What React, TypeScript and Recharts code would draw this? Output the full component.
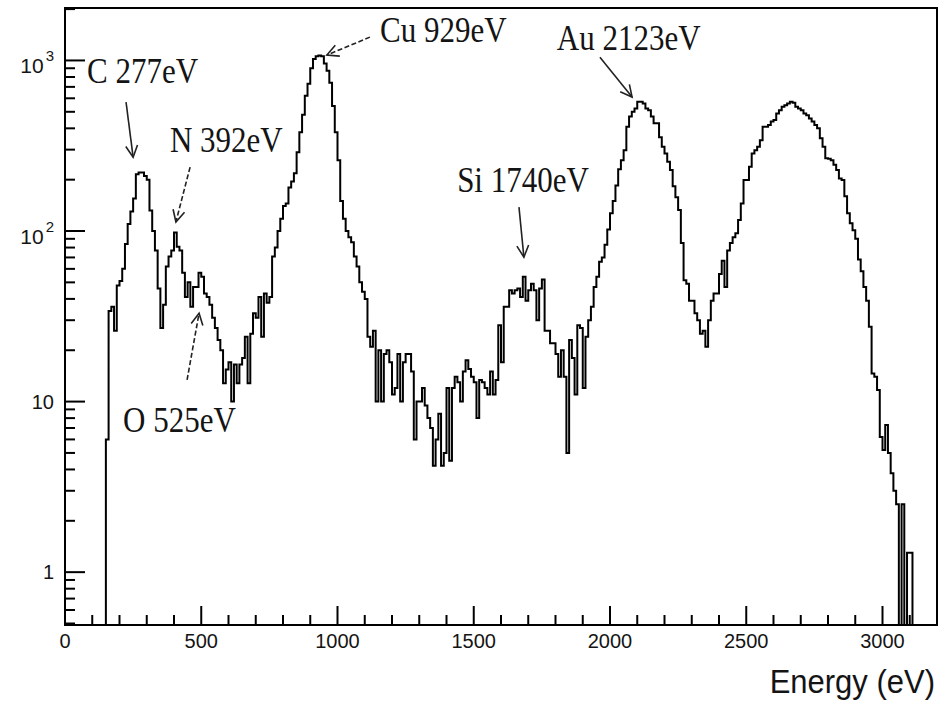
import React from "react";
import {
  LineChart,
  Line,
  XAxis,
  YAxis,
  ReferenceLine,
  ReferenceDot,
  ReferenceArea,
} from "recharts";

// Histogram: bin start energy (eV) = BIN_START + i * BIN_WIDTH
const BIN_START = 140;
const BIN_WIDTH = 10;
// counts per bin (values below 0.49 are empty bins, drawn below the frame)
const COUNTS: number[] = [
  0.3, 6, 34, 36, 26, 48, 51, 60, 84, 110, // 140-230
  130, 155, 215, 220, 220, 210, 200, 132, 100, 77, // 240-330
  46, 27, 37, 62, 71, 77, 98, 81, 77, 57, // 340-430
  41, 50, 36, 47, 47, 57, 54, 43, 41, 37, // 440-530
  31, 27, 23, 20, 12.8, 15.4, 17, 10, 16.5, 12.8, // 540-630
  16.5, 18, 24, 12.8, 25, 33, 31, 41, 24, 43, // 640-730
  38, 41, 71, 80, 100, 118, 140, 145, 180, 195, // 740-830
  218, 290, 380, 480, 620, 730, 900, 1020, 1060, 1070, // 840-930
  1060, 960, 870, 740, 540, 380, 260, 150, 118, 100, // 940-1030
  92, 86, 71, 62, 50, 44, 40, 24, 21, 26, // 1040-1130
  10, 20, 10, 19, 20, 17, 11, 12, 19, 10, // 1140-1230
  17, 19, 19, 15, 6, 10, 10, 12, 9.5, 8, // 1240-1330
  7, 4.2, 6, 8.5, 4.2, 5, 12, 4.5, 12, 14, // 1340-1430
  13, 10, 15, 17.5, 15.5, 14, 13, 8, 13.4, 13, // 1440-1530
  12, 11, 15, 11, 13.4, 28, 17, 36, 36, 45, // 1540-1630
  43, 45, 46, 41, 54, 39, 45, 49, 45, 30, // 1640-1730
  46, 52, 26, 26, 22, 22, 19, 14, 20, 14, // 1740-1830
  5, 23, 18, 11, 28, 27, 12, 24, 30, 36, // 1840-1930
  47, 54, 66, 70, 83, 102, 127, 150, 185, 230, // 1940-2030
  260, 298, 408, 470, 500, 523, 572, 572, 560, 523, // 2040-2130
  511, 470, 428, 428, 355, 312, 285, 255, 228, 183, // 2140-2230
  158, 133, 85, 51.5, 49, 39, 39, 33, 30, 25, // 2240-2330
  26, 21, 30, 39, 43, 43, 56, 67, 47, 77, // 2340-2430
  85, 92, 97, 116, 145, 199, 199, 238, 285, 298, // 2440-2530
  312, 341, 408, 408, 418, 438, 447, 489, 511, 535, // 2540-2630
  547, 560, 572, 565, 535, 523, 511, 489, 478, 457, // 2640-2730
  438, 418, 400, 350, 312, 267, 265, 260, 245, 228, // 2740-2830
  203, 199, 160, 127, 111, 101, 90, 68, 58, 47, // 2840-2930
  39, 27.5, 14.6, 14, 11.7, 6.2, 5.2, 7.3, 5.0, 3.8, // 2940-3030
  3.0, 2.5, 0.3, 2.5, 0.3, 1.3, 1.3, 0.3, // 3040-3110
];

// axis ticks
const X_TICKS: number[] = [
  0, 100, 200, 300, 400, 500, 600, 700, 800, 900, 1000, 1100, 1200, 1300, 1400,
  1500, 1600, 1700, 1800, 1900, 2000, 2100, 2200, 2300, 2400, 2500, 2600, 2700,
  2800, 2900, 3000, 3100,
];
const X_MAJOR: number[] = [0, 500, 1000, 1500, 2000, 2500, 3000];
const Y_TICKS: number[] = [
  0.5, 0.6, 0.7, 0.8, 0.9, 1, 2, 3, 4, 5, 6, 7, 8, 9, 10, 20, 30, 40, 50, 60, 70,
  80, 90, 100, 200, 300, 400, 500, 600, 700, 800, 900, 1000, 2000,
];
const Y_MAJOR: number[] = [1, 10, 100, 1000];
const Y_EXP: Record<number, string> = { 100: "2", 1000: "3" };

// annotations (data coordinates)
const LABEL_TEXT: string[] = ["C 277eV", "N 392eV", "O 525eV", "Cu 929eV", "Si 1740eV", "Au 2123eV"];
const LABEL_E: number[] = [81, 385, 213, 1156, 1439, 1805];
const LABEL_C: number[] = [736, 290, 6.62, 1280, 169, 1149];
const ARROW_TAIL_E: number[] = [224, 459, 448, 1119, 1666, 1963];
const ARROW_TAIL_C: number[] = [569, 237, 13.4, 1370, 138, 1045];
const ARROW_HEAD_E: number[] = [250, 407, 492, 961, 1684, 2081];
const ARROW_HEAD_C: number[] = [271, 113, 33, 1075, 70.3, 610];
const ARROW_DASHED: boolean[] = [false, true, true, true, false, false];

const rows = COUNTS.map((c, i) => ({ energy: BIN_START + i * BIN_WIDTH, count: c }));
rows.push({ energy: BIN_START + COUNTS.length * BIN_WIDTH, count: 0.3 });

const SANS = "'Liberation Sans', Arial, Helvetica, sans-serif";
const SERIF = "'Liberation Serif', 'Times New Roman', serif";
const INK = "#141414";

// tick labels only (tick marks drawn inside the frame below)
const XTickLabel = (props: any) => {
  const { x, y, payload } = props;
  const v = payload.value;
  if (!X_MAJOR.includes(v)) return <g />;
  return (
    <text x={x} y={y + 23} textAnchor="middle" fontFamily={SANS} fontSize={20} fill={INK} stroke="none">
      {v}
    </text>
  );
};

const YTickLabel = (props: any) => {
  const { x, y, payload } = props;
  const v = payload.value;
  if (!Y_MAJOR.includes(v)) return <g />;
  const exp = Y_EXP[v];
  if (!exp) {
    return (
      <text x={x - 11} y={y + 7} textAnchor="end" fontFamily={SANS} fontSize={20} fill={INK} stroke="none">
        {v}
      </text>
    );
  }
  return (
    <text x={x - 11} y={y + 13} textAnchor="end" fontFamily={SANS} fontSize={21} fill={INK} stroke="none">
      <tspan>10</tspan>
      <tspan dy={-12} dx={2} fontSize={15}>
        {exp}
      </tspan>
    </text>
  );
};

// inward tick marks
const XTickMark = (props: any) => {
  const { x1, y1, y2, len } = props;
  const base = Math.max(y1, y2);
  return <line x1={x1} x2={x1} y1={base} y2={base - len} stroke="#000" strokeWidth={2} />;
};
const YTickMark = (props: any) => {
  const { x1, x2, y1, len } = props;
  const base = Math.min(x1, x2);
  return <line x1={base} x2={base + len} y1={y1} y2={y1} stroke="#000" strokeWidth={2} />;
};

const ArrowShape = (props: any) => {
  const { x1, y1, x2, y2, dashed } = props;
  const dx = x2 - x1;
  const dy = y2 - y1;
  const len = Math.sqrt(dx * dx + dy * dy) || 1;
  const ux = dx / len;
  const uy = dy / len;
  const head = 13;
  const ang = (27 * Math.PI) / 180;
  const c = Math.cos(ang);
  const s = Math.sin(ang);
  const rx = -ux;
  const ry = -uy;
  const ax = x2 + head * (rx * c - ry * s);
  const ay = y2 + head * (rx * s + ry * c);
  const bx = x2 + head * (rx * c + ry * s);
  const by = y2 + head * (-rx * s + ry * c);
  return (
    <g>
      <line
        x1={x1}
        y1={y1}
        x2={x2}
        y2={y2}
        stroke="#222"
        strokeWidth={1.6}
        strokeDasharray={dashed ? "5 2.5" : undefined}
      />
      <polyline points={`${ax},${ay} ${x2},${y2} ${bx},${by}`} fill="none" stroke="#222" strokeWidth={1.6} />
    </g>
  );
};

const EnergyLabel = (props: any) => {
  const vb = props.viewBox || {};
  const x = (vb.x || 0) + (vb.width || 0) - 2;
  const y = (vb.y || 0) + 68;
  return (
    <text
      transform={`translate(${x} ${y}) scale(1 1.08)`}
      x={0}
      y={0}
      textAnchor="end"
      fontFamily={SANS}
      fontSize={31}
      fill={INK}
    >
      Energy (eV)
    </text>
  );
};

export default function App() {
  return (
    <div style={{ position: "absolute", left: 0, top: 0, background: "#fff" }}>
      <LineChart width={950} height={700} data={rows} margin={{ top: 8, right: 13, bottom: 0, left: 0 }}>
        <XAxis
          dataKey="energy"
          type="number"
          domain={[0, 3200]}
          allowDataOverflow
          ticks={X_TICKS}
          interval={0}
          tickSize={0}
          tickMargin={0}
          tickLine={false}
          tick={(p: any) => <XTickLabel {...p} />}
          axisLine={{ stroke: "#000", strokeWidth: 2 }}
          height={75}
          label={{ content: (p: any) => <EnergyLabel {...p} /> }}
        />
        <YAxis
          type="number"
          scale="log"
          domain={[0.49, 2030]}
          allowDataOverflow
          ticks={Y_TICKS}
          interval={0}
          tickSize={0}
          tickMargin={0}
          tickLine={false}
          tick={(p: any) => <YTickLabel {...p} />}
          axisLine={{ stroke: "#000", strokeWidth: 2 }}
          width={65}
        />
        <ReferenceArea
          x1={0}
          x2={3200}
          y1={0.49}
          y2={2030}
          fill="none"
          fillOpacity={0}
          stroke="#000"
          strokeWidth={2}
          ifOverflow="visible"
        />
        {X_TICKS.map((v) => (
          <ReferenceLine
            key={`xt-${v}`}
            x={v}
            ifOverflow="visible"
            shape={(p: any) => <XTickMark {...p} len={X_MAJOR.includes(v) ? 19 : 10} />}
          />
        ))}
        {Y_TICKS.map((v) => (
          <ReferenceLine
            key={`yt-${v}`}
            y={v}
            ifOverflow="visible"
            shape={(p: any) => <YTickMark {...p} len={Y_MAJOR.includes(v) ? 20 : 10} />}
          />
        ))}
        <Line
          dataKey="count"
          type="stepAfter"
          stroke="#000"
          strokeWidth={2}
          dot={false}
          activeDot={false}
          isAnimationActive={false}
        />
        {LABEL_TEXT.map((t, i) => (
          <ReferenceLine
            key={`arrow-${i}`}
            segment={[
              { x: ARROW_TAIL_E[i], y: ARROW_TAIL_C[i] },
              { x: ARROW_HEAD_E[i], y: ARROW_HEAD_C[i] },
            ]}
            ifOverflow="visible"
            shape={(p: any) => <ArrowShape {...p} dashed={ARROW_DASHED[i]} />}
          />
        ))}
        {LABEL_TEXT.map((t, i) => (
          <ReferenceDot
            key={`label-${i}`}
            x={LABEL_E[i]}
            y={LABEL_C[i]}
            r={0}
            ifOverflow="visible"
            shape={(p: any) => (
              <text
                transform={`translate(${p.cx} ${p.cy}) scale(1 1.17)`}
                x={0}
                y={0}
                fontFamily={SERIF}
                fontSize={31}
                fill={INK}
              >
                {t}
              </text>
            )}
          />
        ))}
      </LineChart>
    </div>
  );
}
